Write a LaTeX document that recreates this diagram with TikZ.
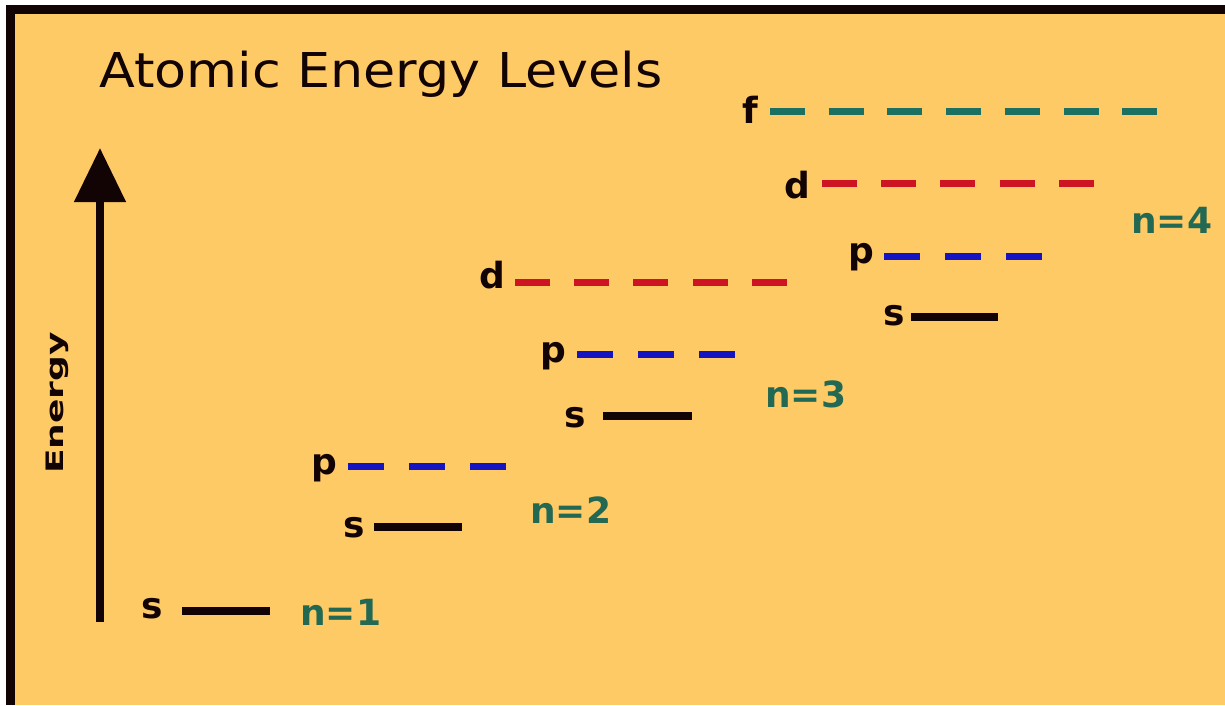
\documentclass[tikz,border=0pt]{standalone}
\usepackage{fontspec}
\setmainfont{DejaVu Sans}
\usetikzlibrary{arrows.meta}
\definecolor{bgorange}{RGB}{254,202,102}
\definecolor{frameblack}{RGB}{18,4,4}
\definecolor{lvblue}{RGB}{20,20,195}
\definecolor{lvred}{RGB}{205,20,35}
\definecolor{lvteal}{RGB}{28,112,98}
\definecolor{nteal}{RGB}{34,104,82}
\tikzset{
  orb/.style={font=\fontsize{36}{40}\selectfont\bfseries, text=frameblack, inner sep=0pt, anchor=base east},
  nlab/.style={font=\fontsize{36}{40}\selectfont\bfseries, text=nteal, inner sep=0pt, anchor=base west},
  sline/.style={draw=frameblack, line width=8pt},
  pline/.style={draw=lvblue, line width=7pt, dash pattern=on 36pt off 25pt},
  dline/.style={draw=lvred, line width=7pt, dash pattern=on 35pt off 24.2pt},
  fline/.style={draw=lvteal, line width=7pt, dash pattern=on 35pt off 23.7pt},
}
\begin{document}
\begin{tikzpicture}[x=1pt,y=-1pt]
\useasboundingbox (0,0) rectangle (1225,705);
\fill[white] (0,0) rectangle (1225,705);
\fill[frameblack] (6,5) rectangle (1225,705);
\fill[bgorange] (15,14) rectangle (1225,705);
% title
\node[font=\fontsize{48}{52}\selectfont, text=frameblack, inner sep=0pt, anchor=base west] (title) at (99,87) {\scalebox{1.09}[1]{Atomic Energy Levels}};
% energy axis
\coordinate (ax0) at (100,622);
\coordinate (ax1) at (100,148);
\draw[frameblack, line width=8pt, -{Triangle[length=54pt,width=50pt]}] (ax0) -- (ax1);
\node[font=\fontsize{24}{26}\selectfont\bfseries, text=frameblack, inner sep=0pt, rotate=90, anchor=base] (energy) at (63,403) {\scalebox{1.5}[1]{Energy}};
% n = 1
\node[orb] (s1) at (163,618) {s};
\coordinate (s1a) at (182,611); \coordinate (s1b) at (270,611);
\draw[sline] (s1a) -- (s1b);
\node[nlab] (n1) at (300,625) {n=1};
% n = 2
\node[orb] (s2) at (365,537) {s};
\coordinate (s2a) at (374,527); \coordinate (s2b) at (462,527);
\draw[sline] (s2a) -- (s2b);
\node[orb] (p2) at (337,474) {p};
\coordinate (p2a) at (348,466.5); \coordinate (p2b) at (506,466.5);
\draw[pline] (p2a) -- (p2b);
\node[nlab] (n2) at (530,523) {n=2};
% n = 3
\node[orb] (s3) at (586,427) {s};
\coordinate (s3a) at (603,416); \coordinate (s3b) at (692,416);
\draw[sline] (s3a) -- (s3b);
\node[orb] (p3) at (566,362) {p};
\coordinate (p3a) at (577,354); \coordinate (p3b) at (735,354);
\draw[pline] (p3a) -- (p3b);
\node[orb] (d3) at (505,288) {d};
\coordinate (d3a) at (515,282); \coordinate (d3b) at (788,282);
\draw[dline] (d3a) -- (d3b);
\node[nlab] (n3) at (765,407) {n=3};
% n = 4
\node[orb] (s4) at (905,325) {s};
\coordinate (s4a) at (911,317); \coordinate (s4b) at (998,317);
\draw[sline] (s4a) -- (s4b);
\node[orb] (p4) at (874,263) {p};
\coordinate (p4a) at (884,256); \coordinate (p4b) at (1042,256);
\draw[pline] (p4a) -- (p4b);
\node[orb] (d4) at (810,198) {d};
\coordinate (d4a) at (822,183.5); \coordinate (d4b) at (1094,183.5);
\draw[dline] (d4a) -- (d4b);
\node[orb] (f4) at (758,123) {f};
\coordinate (f4a) at (770,111.5); \coordinate (f4b) at (1158,111.5);
\draw[fline] (f4a) -- (f4b);
\node[nlab] (n4) at (1131,233) {n=4};
\end{tikzpicture}
\end{document}
